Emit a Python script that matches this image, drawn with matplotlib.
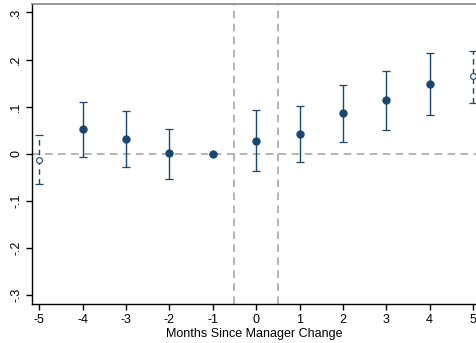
import numpy as np
import matplotlib
matplotlib.use("Agg")
import matplotlib.pyplot as plt

plt.rcParams['font.family'] = ['Liberation Sans', 'DejaVu Sans']

# event-time estimates and 95% CI bounds
months = [-5, -4, -3, -2, -1, 0, 1, 2, 3, 4, 5]
coef = [-0.013, 0.052, 0.032, 0.001, 0.0, 0.028, 0.042, 0.086, 0.114, 0.149, 0.165]
upper = [0.039, 0.110, 0.091, 0.053, 0.0, 0.092, 0.101, 0.147, 0.176, 0.214, 0.219]
lower = [-0.065, -0.006, -0.029, -0.053, 0.0, -0.036, -0.017, 0.024, 0.051, 0.083, 0.108]
# binned endpoints drawn hollow with dashed CI
binned = [True, False, False, False, False, False, False, False, False, False, True]

navy = '#1a476f'

fig = plt.figure(figsize=(4.77, 3.43), dpi=100)
ax = fig.add_axes([32 / 477, 1 - 304 / 343, 1 - 32 / 477, 300 / 343])

ax.axhline(0, color='#a0a0a0', lw=1.1, ls=(0, (5, 3.5)), zorder=1)
for xv in (-0.5, 0.5):
    ax.axvline(xv, color='#a0a0a0', lw=1.1, ls=(0, (5, 3.5)), zorder=1)

x = np.array(months)
c = np.array(coef)
up = np.array(upper)
lo = np.array(lower)
b = np.array(binned)

for mask, ls, mfc in ((~b, '-', navy), (b, (0, (4, 3)), 'white')):
    eb = ax.errorbar(x[mask], c[mask], yerr=[c[mask] - lo[mask], up[mask] - c[mask]],
                     fmt='none', ecolor=navy, elinewidth=1.0, capsize=3, capthick=0.9,
                     zorder=2)
    eb[2][0].set_linestyle(ls)
    ax.plot(x[mask], c[mask], 'o', color=navy, mfc=mfc, mec=navy,
            ms=5.2 if mfc == navy else 4.2, mew=0.8, zorder=3)

ax.set_xlim(-5.168, 5.092)
ax.set_ylim(-0.319, 0.318)
ax.set_xticks(months)
ax.set_xticklabels([str(m) for m in months])
yt = [-0.3, -0.2, -0.1, 0, 0.1, 0.2, 0.3]
ax.set_yticks(yt)
ax.set_yticklabels(['-.3', '-.2', '-.1', '0', '.1', '.2', '.3'], rotation=90, va='center')
ax.tick_params(labelsize=9, length=4, width=1, color='black')
ax.tick_params(axis='y', pad=3)

ax.spines['right'].set_visible(False)
ax.spines['top'].set_color('#888888')
ax.spines['top'].set_linewidth(1.2)
ax.spines['left'].set_linewidth(1.0)
ax.spines['bottom'].set_linewidth(1.0)

ax.set_xlabel('Months Since Manager Change', fontsize=9, labelpad=1)

fig.savefig('out.png', dpi=100)
